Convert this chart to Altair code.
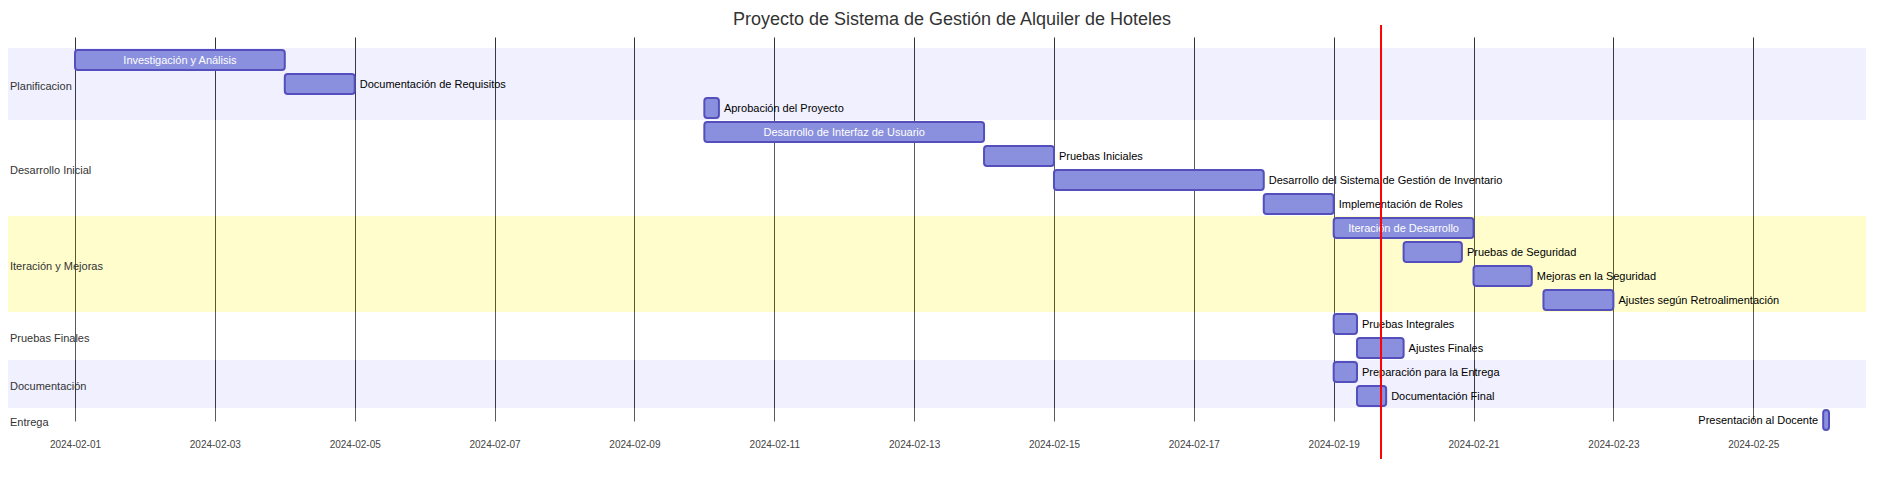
import altair as alt
import pandas as pd

# ---------------- data ----------------
TITLE = "Proyecto de Sistema de Gestión de Alquiler de Hoteles"

SECTIONS = ["Planificacion", "Desarrollo Inicial", "Iteración y Mejoras",
            "Pruebas Finales", "Documentación", "Entrega"]

TASK_NAMES = [
    "Investigación y Análisis",
    "Documentación de Requisitos",
    "Aprobación del Proyecto",
    "Desarrollo de Interfaz de Usuario",
    "Pruebas Iniciales",
    "Desarrollo del Sistema de Gestión de Inventario",
    "Implementación de Roles",
    "Iteración de Desarrollo",
    "Pruebas de Seguridad",
    "Mejoras en la Seguridad",
    "Ajustes según Retroalimentación",
    "Pruebas Integrales",
    "Ajustes Finales",
    "Preparación para la Entrega",
    "Documentación Final",
    "Presentación al Docente",
]

TASK_SECTIONS = [
    "Planificacion", "Planificacion", "Planificacion",
    "Desarrollo Inicial", "Desarrollo Inicial", "Desarrollo Inicial", "Desarrollo Inicial",
    "Iteración y Mejoras", "Iteración y Mejoras", "Iteración y Mejoras", "Iteración y Mejoras",
    "Pruebas Finales", "Pruebas Finales",
    "Documentación", "Documentación",
    "Entrega",
]

TASK_STARTS = [
    "2024-02-01T00:00:00Z", "2024-02-04T00:00:00Z", "2024-02-10T00:00:00Z",
    "2024-02-10T00:00:00Z", "2024-02-14T00:00:00Z", "2024-02-15T00:00:00Z", "2024-02-18T00:00:00Z",
    "2024-02-19T00:00:00Z", "2024-02-20T00:00:00Z", "2024-02-21T00:00:00Z", "2024-02-22T00:00:00Z",
    "2024-02-19T00:00:00Z", "2024-02-19T08:00:00Z",
    "2024-02-19T00:00:00Z", "2024-02-19T08:00:00Z",
    "2024-02-26T00:00:00Z",
]

TASK_ENDS = [
    "2024-02-04T00:00:00Z", "2024-02-05T00:00:00Z", "2024-02-10T05:00:00Z",
    "2024-02-14T00:00:00Z", "2024-02-15T00:00:00Z", "2024-02-18T00:00:00Z", "2024-02-19T00:00:00Z",
    "2024-02-21T00:00:00Z", "2024-02-20T20:00:00Z", "2024-02-21T20:00:00Z", "2024-02-23T00:00:00Z",
    "2024-02-19T08:00:00Z", "2024-02-20T00:00:00Z",
    "2024-02-19T08:00:00Z", "2024-02-19T18:00:00Z",
    "2024-02-26T02:00:00Z",
]

TODAY = ["2024-02-19T16:15:00Z"]

TICK_DAYS = [1, 3, 5, 7, 9, 11, 13, 15, 17, 19, 21, 23, 25]

# ---------------- styling config ----------------
FONT = "Liberation Sans"
INSIDE_LABELS = ["Investigación y Análisis", "Desarrollo de Interfaz de Usuario",
                 "Iteración de Desarrollo"]
LEFT_LABELS = ["Presentación al Docente"]
SECTION_FILL = ["#6666ff", "#ffffff", "#fff400", "#ffffff", "#6666ff", "#ffffff"]
SECTION_OPACITY = [0.098, 0.2, 0.2, 0.2, 0.098, 0.2]

# ---------------- tables ----------------
tasks = pd.DataFrame({
    "task": TASK_NAMES,
    "section": TASK_SECTIONS,
    "start": TASK_STARTS,
    "end": TASK_ENDS,
})
tasks["place"] = [
    "inside" if t in INSIDE_LABELS else ("left" if t in LEFT_LABELS else "right")
    for t in TASK_NAMES
]

rows = []
idx = 0
for i, s in enumerate(SECTIONS):
    n = TASK_SECTIONS.count(s)
    rows.append({"section": s, "r0": idx, "r1": idx + n, "rmid": idx + n / 2,
                 "fillc": SECTION_FILL[i], "op": SECTION_OPACITY[i]})
    idx += n
bands = pd.DataFrame(rows)

N = len(TASK_NAMES)
W, H = 1888, 399
ROW_TOP, ROW_BOTTOM = 13, 13 + 24 * N

x_scale = alt.Scale(type="utc",
                    domain=[TASK_STARTS[0], max(TASK_ENDS)],
                    range=[67, 1821])

x_axis = alt.Axis(
    values=[alt.DateTime(year=2024, month=2, date=d, utc=True) for d in TICK_DAYS],
    format="%Y-%m-%d", title=None, grid=True, gridColor="#333", gridWidth=1,
    domain=False, ticks=False, labelFontSize=10, labelColor="#444",
    labelFont=FONT, labelPadding=5, labelFlush=False, labelOverlap=False,
)

yq = alt.Scale(domain=[0, N], range=[ROW_TOP, ROW_BOTTOM])

band_layer = alt.Chart(bands).mark_rect(strokeWidth=0).encode(
    x=alt.value(0), x2=alt.value(1858),
    y=alt.Y("r0:Q", scale=yq, axis=None), y2="r1:Q",
    fill=alt.Fill("fillc:N", scale=None),
    opacity=alt.Opacity("op:Q", scale=None),
)

section_text = alt.Chart(bands).mark_text(
    align="left", baseline="middle", dy=3, fontSize=11, font=FONT, color="#333"
).encode(
    x=alt.value(2),
    y=alt.Y("rmid:Q", scale=yq, axis=None),
    text="section:N",
)

title_text = alt.Chart(pd.DataFrame({"t": [TITLE]})).mark_text(
    align="center", baseline="middle", fontSize=18, font=FONT, color="#333"
).encode(
    x=alt.value(W / 2), y=alt.value(-15), text="t:N",
)

# invisible layer carrying the x axis
axis_layer = alt.Chart(tasks).mark_point(opacity=0).encode(
    x=alt.X("start:T", scale=x_scale, axis=x_axis),
)

yb = alt.Scale(domain=TASK_NAMES, range=[ROW_TOP, ROW_BOTTOM],
               paddingInner=1 / 6, paddingOuter=1 / 12)

bars = alt.Chart(tasks).mark_bar(
    fill="#8a90dd", stroke="#534fbc", strokeWidth=2, cornerRadius=3
).encode(
    x=alt.X("start:T", scale=x_scale, axis=x_axis),
    x2="end:T",
    y=alt.Y("task:N", scale=yb, axis=None, sort=TASK_NAMES),
)

inside_text = alt.Chart(tasks).transform_filter(
    alt.datum.place == "inside"
).transform_calculate(
    mid="(toDate(datum.start) + toDate(datum.end)) / 2"
).mark_text(align="center", baseline="middle", dy=1, fontSize=11, font=FONT, color="white").encode(
    x=alt.X("mid:T", scale=x_scale, axis=x_axis),
    y=alt.Y("task:N", scale=yb, axis=None, sort=TASK_NAMES),
    text="task:N",
)

right_text = alt.Chart(tasks).transform_filter(
    alt.datum.place == "right"
).mark_text(align="left", baseline="middle", dx=5, dy=1, fontSize=11, font=FONT, color="black").encode(
    x=alt.X("end:T", scale=x_scale, axis=x_axis),
    y=alt.Y("task:N", scale=yb, axis=None, sort=TASK_NAMES),
    text="task:N",
)

left_text = alt.Chart(tasks).transform_filter(
    alt.datum.place == "left"
).mark_text(align="right", baseline="middle", dx=-5, dy=1, fontSize=11, font=FONT, color="black").encode(
    x=alt.X("start:T", scale=x_scale, axis=x_axis),
    y=alt.Y("task:N", scale=yb, axis=None, sort=TASK_NAMES),
    text="task:N",
)

today = alt.Chart(pd.DataFrame({"today": TODAY})).mark_rule(color="red", strokeWidth=2).encode(
    x=alt.X("today:T", scale=x_scale, axis=x_axis),
    y=alt.value(-10), y2=alt.value(424),
)

bg = alt.layer(band_layer, section_text, title_text)
fg = alt.layer(axis_layer, bars, inside_text, right_text, left_text, today)

chart = alt.layer(bg, fg).resolve_scale(y="independent").properties(
    width=W, height=H,
    autosize=alt.AutoSizeParams(type="none"),
    padding={"left": 0, "top": 27, "right": 0, "bottom": 35},
    background="white",
).configure_view(stroke=None)

chart.save("out.html", embed_options={"renderer": "svg", "actions": False})
